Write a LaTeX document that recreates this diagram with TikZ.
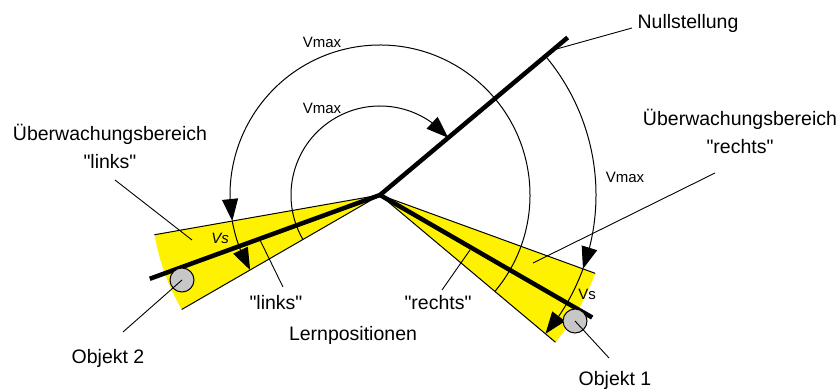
\documentclass[tikz,border=0pt]{standalone}
\usepackage{fontspec}
\setmainfont{Liberation Sans}
\usetikzlibrary{arrows.meta,bending,calc}
\newcommand{\qd}{\textquotedbl}
\begin{document}
\begin{tikzpicture}[x=1pt,y=1pt,
  lbl/.style={inner sep=0pt,font=\fontsize{19.5pt}{28pt}\selectfont,align=center},
  small/.style={inner sep=0pt,font=\fontsize{15pt}{18pt}\selectfont},
  edgeline/.style={line width=1pt},
  heavy/.style={line width=4.5pt},
  arcline/.style={line width=1pt},
  arr/.style={-{Triangle[length=22pt,width=16pt]}},
  leader/.style={line width=0.9pt},
  obj/.style={circle,draw,line width=1pt,fill=black!22,minimum size=24pt,inner sep=0pt}
]
\useasboundingbox (0,0) rectangle (840,390);
\coordinate (C) at (380,195);
% wedge corners
\coordinate (L1) at ([shift={(190:229pt)}]C);
\coordinate (L2) at ([shift={(210:229pt)}]C);
\coordinate (R1) at ([shift={(-20:229pt)}]C);
\coordinate (R2) at ([shift={(-40:229pt)}]C);
% yellow wedges
\fill[yellow] (C) -- (L1) arc[start angle=190,end angle=210,radius=229pt] -- cycle;
\fill[yellow] (C) -- (R1) arc[start angle=-20,end angle=-40,radius=229pt] -- cycle;
\draw[edgeline] (L1) -- (C) -- (L2);
\draw[edgeline] (R1) -- (C) -- (R2);
% heavy lines
\coordinate (N) at ([shift={(40:245pt)}]C);
\coordinate (LL) at ([shift={(200:245pt)}]C);
\coordinate (RL) at ([shift={(-30:245pt)}]C);
\draw[heavy] (C) -- (N);
\draw[heavy] (C) -- (LL);
\draw[heavy] (C) -- (RL);
% arcs
\coordinate (A1) at ([shift={(-40:150pt)}]C);
\coordinate (A2) at ([shift={(190:150pt)}]C);
\coordinate (A3) at ([shift={(210:89pt)}]C);
\coordinate (A4) at ([shift={(40:216pt)}]C);
\coordinate (A5) at ([shift={(-20:216pt)}]C);
\draw[arcline,arr] (A1) arc[start angle=-40,end angle=190,radius=150pt];
\draw[arcline,arr] (A2) arc[start angle=190,end angle=210,radius=150pt];
\draw[arcline,arr] (A3) arc[start angle=210,end angle=40,radius=89pt];
\draw[arcline,arr] (A4) arc[start angle=40,end angle=-20,radius=216pt];
\draw[arcline,arr] (A5) arc[start angle=-20,end angle=-40,radius=216pt];
% objects
\node[obj] (o2) at (182,110) {};
\node[obj] (o1) at (575,69) {};
% labels
\node[small] (vmo) at (322,348) {Vmax};
\node[small] (vmi) at (322,282) {Vmax};
\node[small] (vmr) at (625,213) {Vmax};
\node[small] (vsl) at (220,152) {\textit{Vs}};
\node[small] (vsr) at (587,96) {Vs};
\node[lbl] (null) at (688,367) {Nullstellung};
\node[lbl] (uebr) at (740,259) {Überwachungsbereich\\\qd rechts\qd};
\node[lbl] (uebl) at (110,244) {Überwachungsbereich\\\qd links\qd};
\node[lbl] (links) at (276,87) {\qd links\qd};
\node[lbl] (rechts) at (438,87) {\qd rechts\qd};
\node[lbl] (lern) at (353,55) {Lernpositionen};
\node[lbl] (obj2) at (108,32) {Objekt 2};
\node[lbl] (obj1) at (615,10) {Objekt 1};
% leader lines
\coordinate (nS) at (632,362); \coordinate (nE) at (553,340);
\coordinate (rS) at (715,217); \coordinate (rE) at (533,127);
\coordinate (lS) at (115,210); \coordinate (lE) at (192,150);
\coordinate (kS) at (283,103); \coordinate (kE) at (260,150);
\coordinate (cS) at (442,100); \coordinate (cE) at (470,140);
\coordinate (o2S) at (123,58);
\coordinate (o1S) at (609,32);
\draw[leader] (nS) -- (nE);
\draw[leader] (rS) -- (rE);
\draw[leader] (lS) -- (lE);
\draw[leader] (kS) -- (kE);
\draw[leader] (cS) -- (cE);
\draw[leader] (o2S) -- (o2.center);
\draw[leader] (o1S) -- (o1.center);
\end{tikzpicture}
\end{document}
